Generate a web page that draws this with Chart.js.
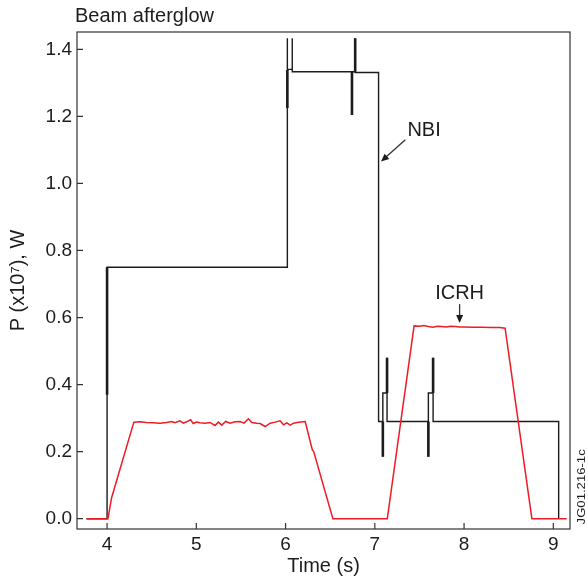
<!DOCTYPE html>
<html>
<head>
<meta charset="utf-8">
<script src="https://cdn.jsdelivr.net/npm/chart.js@4/dist/chart.umd.min.js"></script>
<style>
  html, body { margin: 0; padding: 0; background: #fff; }
  canvas { display: block; }
</style>
</head>
<body>
<canvas id="chart" width="588" height="581"></canvas>
<script>
// Ticks
const xTicks = [4, 5, 6, 7, 8, 9];
const yTicks = [0, 0.2, 0.4, 0.6, 0.8, 1.0, 1.2, 1.4];

// NBI power trace (time s, power x10^7 W)
const nbiT = [3.77, 4.0, 4.0, 6.02, 6.02, 6.02, 6.075, 6.075, 6.075, 6.744, 6.744, 6.744,
  6.78, 6.78, 6.78, 7.042, 7.042, 7.09, 7.09, 7.09, 7.137, 7.137, 7.137,
  7.60, 7.60, 7.60, 7.653, 7.653, 7.653, 9.06, 9.06];
const nbiP = [0, 0, 0.75, 0.75, 1.433, 1.34, 1.34, 1.433, 1.333, 1.333, 1.204, 1.333,
  1.333, 1.433, 1.331, 1.331, 0.29, 0.29, 0.185, 0.375, 0.375, 0.48, 0.29,
  0.29, 0.185, 0.375, 0.375, 0.48, 0.29, 0.29, 0];

// thick parts of the NBI trace (pairs, null breaks the line)
const spikeT = [4.0, 4.0, 4.0, 6.02, 6.02, 6.02, 6.744, 6.744, 6.744, 6.78, 6.78, 6.78,
  7.09, 7.09, 7.09, 7.137, 7.137, 7.137, 7.60, 7.60, 7.60, 7.653, 7.653];
const spikeP = [0.37, 0.75, null, 1.225, 1.338, null, 1.204, 1.333, null, 1.333, 1.433, null,
  0.185, 0.29, null, 0.375, 0.48, null, 0.185, 0.29, null, 0.375, 0.48];

// ICRH power trace
const icrhT = [3.77, 4.01, 4.05, 4.30, 4.367, 4.442, 4.517, 4.592, 4.667, 4.723, 4.76, 4.816,
  4.854, 4.891, 4.936, 4.966, 5.004, 5.041, 5.097, 5.153, 5.209, 5.247, 5.284, 5.329,
  5.378, 5.434, 5.49, 5.535, 5.584, 5.621, 5.677, 5.715, 5.771, 5.827, 5.883, 5.939,
  5.977, 6.014, 6.052, 6.089, 6.145, 6.22, 6.30, 6.315, 6.53, 7.14, 7.44,
  7.5, 7.55, 7.6, 7.65, 7.7, 7.75, 7.8, 7.85, 7.9, 7.95, 8.0, 8.1, 8.2, 8.3, 8.4, 8.46,
  8.76, 9.15];
const icrhP = [0, 0, 0.062, 0.288, 0.289, 0.287, 0.286, 0.285, 0.287, 0.29, 0.286, 0.292,
  0.285, 0.289, 0.295, 0.284, 0.288, 0.286, 0.285, 0.287, 0.278, 0.288, 0.279, 0.29,
  0.285, 0.289, 0.29, 0.285, 0.298, 0.287, 0.285, 0.284, 0.275, 0.285, 0.288, 0.292,
  0.28, 0.286, 0.279, 0.285, 0.288, 0.29, 0.205, 0.2, 0, 0, 0.575,
  0.574, 0.576, 0.573, 0.571, 0.574, 0.573, 0.572, 0.574, 0.573, 0.572, 0.572, 0.571, 0.571, 0.57, 0.57, 0.568,
  0, 0];

const pts = (xs, ys) => xs.map((x, i) => ({ x: x, y: ys[i] }));

const FONT = "'Liberation Sans', Arial, Helvetica, sans-serif";
const INK = "#1c1c1c";

function arrow(ctx, x1, y1, x2, y2) {
  const ang = Math.atan2(y2 - y1, x2 - x1);
  const hl = 8, hw = 3.5;
  ctx.beginPath();
  ctx.moveTo(x1, y1);
  ctx.lineTo(x2 - Math.cos(ang) * hl * 0.8, y2 - Math.sin(ang) * hl * 0.8);
  ctx.stroke();
  ctx.beginPath();
  ctx.moveTo(x2, y2);
  ctx.lineTo(x2 - Math.cos(ang) * hl - Math.sin(ang) * hw, y2 - Math.sin(ang) * hl + Math.cos(ang) * hw);
  ctx.lineTo(x2 - Math.cos(ang) * hl + Math.sin(ang) * hw, y2 - Math.sin(ang) * hl - Math.cos(ang) * hw);
  ctx.closePath();
  ctx.fill();
}

const frame = {
  id: "frame",
  afterDraw(chart) {
    const { ctx, chartArea: a, scales: { x, y } } = chart;
    ctx.save();
    ctx.strokeStyle = "#333";
    ctx.fillStyle = INK;
    ctx.lineWidth = 1.2;
    ctx.strokeRect(a.left, a.top, a.right - a.left, a.bottom - a.top);
    ctx.beginPath();
    xTicks.forEach(v => {
      const px = x.getPixelForValue(v);
      ctx.moveTo(px, a.bottom);
      ctx.lineTo(px, a.bottom - 6);
    });
    yTicks.forEach(v => {
      const py = y.getPixelForValue(v);
      ctx.moveTo(a.left, py);
      ctx.lineTo(a.left + 6, py);
    });
    ctx.stroke();

    ctx.font = "20px " + FONT;
    ctx.textBaseline = "alphabetic";
    ctx.textAlign = "left";
    ctx.fillText("Beam afterglow", a.left - 2, 22);

    // NBI label
    ctx.fillText("NBI", x.getPixelForValue(7.365), y.getPixelForValue(1.142));
    ctx.lineWidth = 1.3;
    arrow(ctx, x.getPixelForValue(7.342), y.getPixelForValue(1.13),
      x.getPixelForValue(7.069), y.getPixelForValue(1.065));

    // ICRH label
    ctx.textAlign = "center";
    ctx.fillText("ICRH", x.getPixelForValue(7.95), y.getPixelForValue(0.656));
    arrow(ctx, x.getPixelForValue(7.95), y.getPixelForValue(0.64),
      x.getPixelForValue(7.95), y.getPixelForValue(0.584));

    // figure id
    ctx.font = "12.5px " + FONT;
    ctx.translate(a.right + 12, y.getPixelForValue(0.095));
    ctx.rotate(-Math.PI / 2);
    ctx.scale(1.05, 0.9);
    ctx.textAlign = "center";
    ctx.textBaseline = "middle";
    ctx.fillText("JG01.216-1c", 0, 0);
    ctx.restore();
  }
};

new Chart(document.getElementById("chart"), {
  type: "scatter",
  data: {
    datasets: [
      {
        label: "ICRH",
        data: pts(icrhT, icrhP),
        showLine: true,
        borderColor: "#ee1c25",
        borderWidth: 1.5,
        order: 0,
      },
      {
        label: "NBI",
        data: pts(nbiT, nbiP),
        showLine: true,
        borderColor: INK,
        borderWidth: 1.4,
        order: 1,
      },
      {
        label: "NBI spikes",
        data: pts(spikeT, spikeP),
        showLine: true,
        spanGaps: false,
        borderColor: INK,
        borderWidth: 2.6,
        order: 2,
      },
    ],
  },
  options: {
    responsive: false,
    animation: false,
    layout: { padding: { left: 0, right: 18, top: 32, bottom: 0 } },
    elements: {
      point: { radius: 0, hoverRadius: 0 },
      line: { tension: 0, borderCapStyle: "butt", borderJoinStyle: "miter" },
    },
    plugins: {
      legend: { display: false },
      tooltip: { enabled: false },
    },
    scales: {
      x: {
        type: "linear",
        min: 3.663,
        max: 9.187,
        afterFit: s => { s.height = 52; },
        afterBuildTicks: s => { s.ticks = xTicks.map(v => ({ value: v })); },
        grid: { display: false, drawTicks: false },
        border: { display: false },
        ticks: {
          color: INK,
          padding: 4,
          font: { family: FONT, size: 19 },
          callback: v => String(v),
        },
        title: {
          display: true,
          text: "Time (s)",
          color: INK,
          font: { family: FONT, size: 20 },
          padding: { top: 0, bottom: 3 },
        },
      },
      y: {
        type: "linear",
        min: -0.0307,
        max: 1.4516,
        afterFit: s => { s.width = 77; },
        afterBuildTicks: s => { s.ticks = yTicks.map(v => ({ value: v })); },
        grid: { display: false, drawTicks: false },
        border: { display: false },
        ticks: {
          color: INK,
          padding: 5,
          font: { family: FONT, size: 19 },
          callback: v => Number(v).toFixed(1),
        },
        title: {
          display: true,
          text: "P (x10\u2077), W",
          color: INK,
          font: { family: FONT, size: 20 },
          padding: { top: 6, bottom: 0 },
        },
      },
    },
  },
  plugins: [frame],
});
</script>
</body>
</html>
